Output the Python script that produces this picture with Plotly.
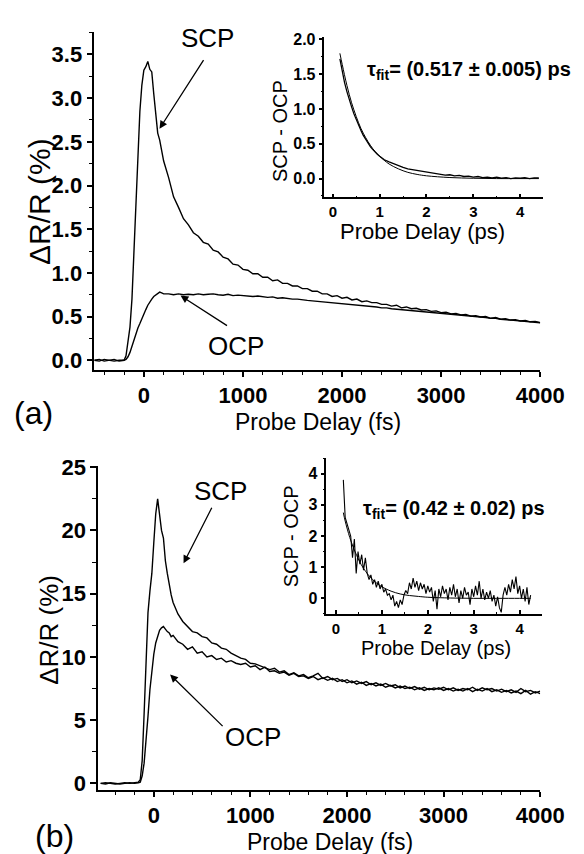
import plotly.graph_objects as go

W, H = 584, 854
FONT = "Arial, Liberation Sans, sans-serif"

# ---- panel (a): delay in fs, dR/R in %
XA = [-500, -450, -400, -350, -300, -250, -200,
      -180, -160, -140, -120, -100, -80, -60, -40, -20, 0, 20, 40, 60, 80, 100, 120, 140, 160, 180, 200,
      250, 300, 350, 400, 450, 500, 550, 600, 650, 700, 750, 800, 850, 900, 950, 1000,
      1050, 1100, 1150, 1200, 1250, 1300, 1350, 1400, 1450, 1500, 1550, 1600, 1650, 1700, 1750, 1800,
      1850, 1900, 1950, 2000, 2050, 2100, 2150, 2200, 2250, 2300, 2350, 2400, 2450, 2500, 2550, 2600,
      2650, 2700, 2750, 2800, 2850, 2900, 2950, 3000, 3050, 3100, 3150, 3200, 3250, 3300, 3350, 3400,
      3450, 3500, 3550, 3600, 3650, 3700, 3750, 3800, 3850, 3900, 3950, 4000]
SCP_A = [0.00, 0.01, -0.01, 0.00, 0.01, -0.01, 0.00,
         0.05, 0.20, 0.38, 0.70, 1.20, 1.80, 2.35, 2.85, 3.15, 3.32, 3.36, 3.42, 3.33, 3.30, 3.05, 2.80, 2.60, 2.52, 2.38, 2.28,
         2.09, 1.87, 1.75, 1.62, 1.55, 1.46, 1.42, 1.35, 1.33, 1.26, 1.24, 1.18, 1.16, 1.10, 1.09, 1.04,
         1.03, 0.99, 0.99, 0.95, 0.95, 0.91, 0.92, 0.88, 0.88, 0.85, 0.85, 0.82, 0.82, 0.79, 0.79, 0.76,
         0.76, 0.73, 0.74, 0.71, 0.72, 0.69, 0.70, 0.67, 0.68, 0.66, 0.66, 0.64, 0.64, 0.62, 0.63, 0.60,
         0.61, 0.59, 0.595, 0.575, 0.58, 0.56, 0.565, 0.545, 0.55, 0.53, 0.535, 0.52, 0.525, 0.505, 0.51, 0.495,
         0.50, 0.48, 0.49, 0.47, 0.475, 0.46, 0.465, 0.45, 0.455, 0.44, 0.445, 0.43]
OCP_A = [0.00, -0.01, 0.01, 0.00, -0.01, 0.00, 0.00,
         0.01, 0.04, 0.09, 0.16, 0.24, 0.31, 0.37, 0.42, 0.48, 0.53, 0.58, 0.63, 0.67, 0.70, 0.73, 0.75, 0.76, 0.78, 0.77, 0.76,
         0.76, 0.75, 0.76, 0.75, 0.755, 0.75, 0.76, 0.75, 0.755, 0.76, 0.75, 0.745, 0.755, 0.74, 0.745, 0.74,
         0.735, 0.73, 0.735, 0.725, 0.72, 0.725, 0.71, 0.715, 0.705, 0.70, 0.70, 0.69, 0.685, 0.68, 0.675, 0.67,
         0.665, 0.66, 0.655, 0.65, 0.645, 0.64, 0.635, 0.625, 0.625, 0.615, 0.61, 0.60, 0.60, 0.59, 0.585, 0.58,
         0.575, 0.57, 0.565, 0.56, 0.555, 0.55, 0.545, 0.54, 0.535, 0.525, 0.525, 0.515, 0.51, 0.505, 0.50, 0.495,
         0.49, 0.48, 0.48, 0.47, 0.465, 0.46, 0.455, 0.45, 0.445, 0.44, 0.44, 0.43]

# inset (a): SCP - OCP in ps, with exponential fit
XIA = [0.15, 0.2, 0.25, 0.3, 0.35, 0.4, 0.45, 0.5, 0.55, 0.6, 0.65, 0.7, 0.75, 0.8, 0.85, 0.9, 0.95, 1.0,
       1.1, 1.2, 1.3, 1.4, 1.5, 1.6, 1.7, 1.8, 1.9, 2.0, 2.1, 2.2, 2.3, 2.4, 2.5, 2.6, 2.7, 2.8, 2.9, 3.0,
       3.1, 3.2, 3.3, 3.4, 3.5, 3.6, 3.7, 3.8, 3.9, 4.0, 4.1, 4.2, 4.3, 4.4]
DIFF_A = [1.72, 1.52, 1.38, 1.25, 1.13, 1.03, 0.93, 0.84, 0.76, 0.69, 0.62, 0.56, 0.50, 0.46, 0.42, 0.38, 0.35, 0.32,
          0.27, 0.24, 0.21, 0.19, 0.16, 0.14, 0.13, 0.11, 0.10, 0.09, 0.08, 0.07, 0.065, 0.05, 0.055, 0.04, 0.045, 0.03, 0.035, 0.02,
          0.03, 0.015, 0.02, 0.01, 0.02, 0.005, 0.015, 0.0, 0.01, 0.005, 0.015, 0.0, 0.01, 0.01]
XFA = [0.15, 0.2, 0.3, 0.4, 0.5, 0.6, 0.7, 0.8, 0.9, 1.0, 1.2, 1.4, 1.6, 1.8, 2.0, 2.5, 3.0, 3.5, 4.0, 4.4]
FIT_A = [1.80, 1.64, 1.34, 1.09, 0.89, 0.72, 0.59, 0.48, 0.39, 0.32, 0.21, 0.14, 0.09, 0.06, 0.04, 0.015, 0.005, 0.0, 0.0, 0.0]

# ---- panel (b)
XB = [-550, -500, -450, -400, -350, -300, -250, -200,
      -180, -160, -140, -120, -100, -80, -60, -40, -20, 0, 20, 40, 60, 80, 100, 120, 140, 160, 180, 200,
      250, 300, 350, 400, 450, 500, 550, 600, 650, 700, 750, 800, 850, 900, 950, 1000,
      1050, 1100, 1150, 1200, 1250, 1300, 1350, 1400, 1450, 1500, 1550, 1600, 1650, 1700, 1750, 1800,
      1850, 1900, 1950, 2000, 2050, 2100, 2150, 2200, 2250, 2300, 2350, 2400, 2450, 2500, 2550, 2600,
      2650, 2700, 2750, 2800, 2850, 2900, 2950, 3000, 3050, 3100, 3150, 3200, 3250, 3300, 3350, 3400,
      3450, 3500, 3550, 3600, 3650, 3700, 3750, 3800, 3850, 3900, 3950, 4000]
SCP_B = [0.0, 0.05, 0.0, -0.05, 0.0, 0.05, 0.0, 0.05,
         0.05, 0.1, 0.3, 1.8, 5.5, 10.0, 13.5, 15.2, 16.6, 19.0, 21.3, 22.5, 21.0, 20.0, 19.4, 17.6, 16.6, 15.6, 14.9, 14.3,
         13.4, 12.8, 12.4, 12.0, 11.9, 11.6, 11.5, 11.1, 11.0, 10.7, 10.6, 10.3, 10.1, 9.9, 9.8, 9.5,
         9.45, 9.3, 9.2, 9.0, 9.1, 8.8, 8.9, 8.6, 8.75, 8.5, 8.6, 8.35, 8.5, 8.7, 8.3, 8.45,
         8.2, 8.3, 8.05, 8.2, 7.95, 8.1, 7.9, 8.05, 7.8, 7.95, 7.75, 7.9, 7.7, 7.8, 7.55, 7.7,
         7.5, 7.65, 7.45, 7.6, 7.4, 7.55, 7.45, 7.6, 7.4, 7.55, 7.35, 7.5, 7.4, 7.6, 7.35, 7.55,
         7.4, 7.5, 7.3, 7.45, 7.25, 7.4, 7.2, 7.5, 7.25, 7.35, 7.15, 7.3]
OCP_B = [0.0, -0.05, 0.05, 0.0, -0.05, 0.0, 0.05, 0.0,
         0.0, 0.05, 0.1, 0.6, 1.6, 3.2, 5.3, 7.4, 9.0, 10.2, 11.1, 11.7, 12.1, 12.3, 12.4, 12.2, 12.0, 11.9, 11.6, 11.7,
         11.2, 11.0, 10.6, 10.8, 10.3, 10.4, 10.0, 10.1, 9.8, 9.9, 9.6, 9.7, 9.5, 9.4, 9.5, 9.2,
         9.3, 9.0, 9.2, 8.85, 8.9, 8.7, 8.8, 8.55, 8.7, 8.45, 8.5, 8.3, 8.45, 8.2, 8.35, 8.15,
         8.3, 8.05, 8.2, 7.95, 8.1, 7.85, 8.0, 7.75, 7.9, 7.7, 7.85, 7.6, 7.75, 7.55, 7.7, 7.5,
         7.6, 7.4, 7.55, 7.35, 7.5, 7.4, 7.55, 7.35, 7.5, 7.3, 7.45, 7.3, 7.5, 7.25, 7.45, 7.3,
         7.5, 7.25, 7.4, 7.2, 7.35, 7.15, 7.3, 7.1, 7.35, 7.05, 7.25, 7.1]

XIB = [0.16, 0.20, 0.24, 0.28, 0.32, 0.36, 0.40, 0.44, 0.48, 0.52, 0.56, 0.60, 0.64, 0.68, 0.72, 0.76, 0.80, 0.84, 0.88, 0.92, 0.96, 1.00, 1.04, 1.08, 1.12,
       1.16, 1.20, 1.24, 1.28, 1.32, 1.36, 1.40, 1.44, 1.48, 1.52, 1.56, 1.60, 1.64, 1.68, 1.72, 1.76, 1.80, 1.84, 1.88, 1.92, 1.96, 2.00, 2.04, 2.08, 2.12,
       2.16, 2.20, 2.24, 2.28, 2.32, 2.36, 2.40, 2.44, 2.48, 2.52, 2.56, 2.60, 2.64, 2.68, 2.72, 2.76, 2.80, 2.84, 2.88, 2.92, 2.96, 3.00, 3.04, 3.08, 3.12,
       3.16, 3.20, 3.24, 3.28, 3.32, 3.36, 3.40, 3.44, 3.48, 3.52, 3.56, 3.60, 3.64, 3.68, 3.72, 3.76, 3.80, 3.84, 3.88, 3.92, 3.96, 4.00, 4.04, 4.08, 4.12,
       4.16, 4.20, 4.24]
DIFF_B = [3.8, 2.6, 2.4, 2.2, 2.0, 1.3, 1.9, 0.8, 1.5, 1.1, 1.4, 0.9, 1.3, 0.8, 0.6, 0.75, 0.45, 0.6, 0.35, 0.55, 0.3, 0.45, 0.2, 0.3, 0.1,
          0.15, -0.05, 0.1, -0.25, -0.1, -0.3, -0.05, -0.2, 0.1, 0.25, 0.15, 0.5, 0.3, 0.65, 0.35, 0.55, 0.25, 0.5, 0.3, 0.45, 0.15, 0.4, 0.2, 0.35, -0.1,
          0.25, -0.35, 0.3, 0.05, 0.4, 0.15, 0.3, -0.05, 0.35, 0.1, 0.45, 0.05, 0.3, -0.15, 0.25, 0.0, 0.35, 0.1, 0.2, -0.2, 0.3, 0.05, 0.4, 0.1, 0.55,
          0.0, 0.3, -0.05, 0.2, 0.0, 0.25, -0.1, 0.1, -0.25, 0.05, -0.3, -0.45, 0.1, 0.35, 0.1, 0.45, 0.2, 0.6, 0.3, 0.7, 0.15, 0.4, 0.0, 0.3, -0.1,
          0.35, -0.2, 0.1]
XFB = [0.16, 0.2, 0.3, 0.4, 0.5, 0.6, 0.7, 0.8, 0.9, 1.0, 1.2, 1.4, 1.6, 1.8, 2.0, 2.5, 3.0, 3.5, 4.0, 4.24]
FIT_B = [2.75, 2.48, 1.95, 1.55, 1.22, 0.96, 0.76, 0.60, 0.47, 0.37, 0.23, 0.14, 0.09, 0.06, 0.035, 0.01, 0.0, 0.0, 0.0, 0.0]

for a, b in [(XA, SCP_A), (XA, OCP_A), (XIA, DIFF_A), (XFA, FIT_A), (XB, SCP_B), (XB, OCP_B), (XIB, DIFF_B), (XFB, FIT_B)]:
    assert len(a) == len(b), (len(a), len(b))


def px(x):
    return x / W


def py(y):
    return 1 - y / H


fig = go.Figure()


def line(x, y, ax, width=1.4, shape="linear"):
    fig.add_trace(go.Scatter(x=x, y=y, mode="lines", xaxis="x" + ax, yaxis="y" + ax,
                             line=dict(color="black", width=width, shape=shape), showlegend=False))


line(XA, SCP_A, "")
line(XA, OCP_A, "")
line(XIA, DIFF_A, "2", 1.3)
line(XFA, FIT_A, "2", 1.0, "spline")
line(XB, SCP_B, "3")
line(XB, OCP_B, "3")
line(XIB, DIFF_B, "4", 1.1)
line(XFB, FIT_B, "4", 1.0, "spline")


def axis(dom, rng, dtick, mdtick, fs, anchor, tlen=6, fmt=None, side="outside"):
    d = dict(domain=dom, range=rng, dtick=dtick, tick0=0, anchor=anchor,
             showline=True, linecolor="black", linewidth=1.5, mirror=False,
             ticks=side, ticklen=tlen, tickwidth=1.5, tickcolor="black",
             showgrid=False, zeroline=False,
             tickfont=dict(family=FONT, size=fs, color="black", weight="bold"),
             minor=dict(dtick=mdtick, tick0=0, ticks=side, ticklen=tlen - 2, tickwidth=1.2, tickcolor="black", showgrid=False))
    if fmt:
        d["tickformat"] = fmt
    return d


fig.update_layout(
    width=W, height=H, margin=dict(l=0, r=0, t=0, b=0),
    paper_bgcolor="white", plot_bgcolor="rgba(0,0,0,0)",
    xaxis=axis([px(90), px(555)], [-500, 4000], 1000, 200, 22, "y", 5),
    yaxis=axis([py(358), py(13)], [-0.11, 3.76], 0.5, 0.25, 22, "x", fmt=".1f"),
    xaxis2=axis([px(330), px(558)], [-0.18, 4.49], 1, 0.5, 15, "y2", 4, side="inside"),
    yaxis2=axis([py(182), py(18)], [-0.27, 2.04], 0.5, 0.25, 16, "x2", 4, fmt=".1f"),
    xaxis3=axis([px(94), px(555)], [-576, 4000], 1000, 200, 22, "y3", 5),
    yaxis3=axis([py(787), py(456)], [-0.55, 25.1], 5, 2.5, 22, "x3"),
    xaxis4=axis([px(332), px(557)], [-0.21, 4.49], 1, 0.5, 15, "y4", 4, side="inside"),
    yaxis4=axis([py(607), py(448)], [-0.5, 4.5], 1, 0.5, 16, "x4", 4),
)


def label(text, cx, cy, size, angle=0, xanchor="center", weight="normal"):
    fig.add_annotation(text=text, x=px(cx), y=py(cy), xref="paper", yref="paper",
                       xanchor=xanchor, yanchor="middle", showarrow=False, textangle=angle,
                       font=dict(family=FONT, size=size, color="black", weight=weight))


def arrow(x, y, ax, ay, xr, yr):
    fig.add_annotation(text="", x=x, y=y, ax=ax, ay=ay, xref=xr, yref=yr,
                       showarrow=True, arrowhead=2, arrowsize=1.2, arrowwidth=1.3, arrowcolor="black")


# panel (a)
label("Probe Delay (fs)", 323, 411, 23)
label("ΔR/R (%)", 33, 186, 30, -90)
label("(a)", 27, 402, 32)
label("SCP", 208, 19, 26)
label("OCP", 238, 334, 26)
arrow(158, 2.65, 45, -70, "x", "y")
arrow(370, 0.74, 48, 31, "x", "y")
label("Probe Delay (ps)", 432, 217, 22)
label("SCP - OCP", 283, 114, 20, -90)
label("τ<sub>fit</sub>= (0.517 ± 0.005) ps", 372, 53, 20, xanchor="left", weight="bold")

# panel (b)
label("Probe Delay (fs)", 336, 840, 23)
label("ΔR/R (%)", 42, 623, 26, -90)
label("(b)", 48, 834, 32)
label("SCP", 222, 482, 26)
label("OCP", 255, 733, 26)
arrow(308, 17.4, 29, -57, "x3", "y3")
arrow(169, 8.6, 54, 53, "x3", "y3")
label("Probe Delay (ps)", 446, 642, 20)
label("SCP - OCP", 296, 528, 20, -90)
label("τ<sub>fit</sub>= (0.42 ± 0.02) ps", 368, 500, 20, xanchor="left", weight="bold")

fig.write_html("out.html")
